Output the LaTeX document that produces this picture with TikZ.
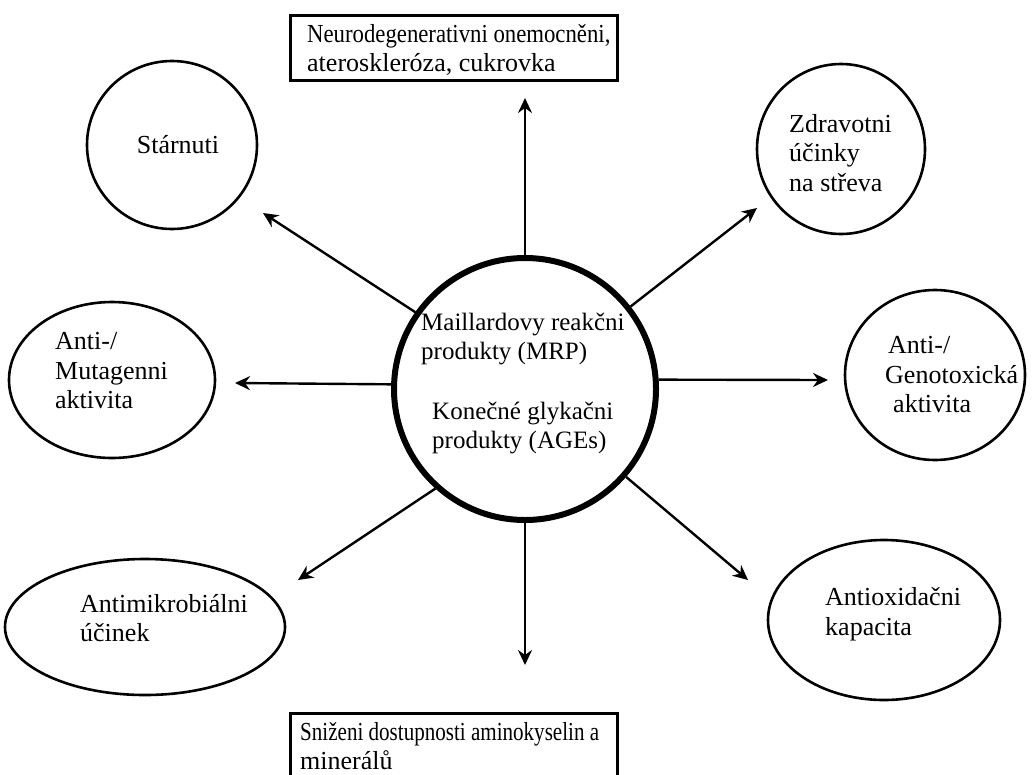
\documentclass[tikz,border=0pt]{standalone}
\usepackage{graphicx}
\usepackage{fontspec}
\setmainfont{Liberation Serif}
\usetikzlibrary{shapes.geometric,arrows.meta}
\tikzset{
  bubble/.style={draw, line width=2.6pt, ellipse, inner sep=0pt},
  hub/.style={draw, line width=6pt, circle, inner sep=0pt, minimum size=262pt},
  infobox/.style={draw, line width=3pt, rectangle, inner sep=0pt},
  label/.style={inner sep=0pt, align=left, font=\fontsize{26}{29.5}\selectfont},
  hublabel/.style={label, font=\fontsize{25}{29.5}\selectfont},
  arr/.style={line width=2.4pt, -{Stealth[length=15pt,width=14pt,inset=5pt]}}
}
\begin{document}
\begin{tikzpicture}[x=1pt,y=-1pt]
\useasboundingbox (0,0) rectangle (1035,774);

% central hub
\node[hub] (c) at (525,389) {};
\node[hublabel, anchor=west] (mrp) at (421,339) {Maillardovy reakčni\\produkty (MRP)};
\node[hublabel, anchor=west] (ages) at (432,428) {Konečné glykačni\\produkty (AGEs)};

% surrounding effects
\node[bubble, minimum width=170pt, minimum height=168pt] (aging) at (172,145) {};
\node[label] (agingT) at (178,145) {Stárnuti};

\node[bubble, minimum width=168pt, minimum height=170pt] (gut) at (841,149) {};
\node[label, anchor=west] (gutT) at (789,153) {Zdravotni\\účinky\\na střeva};

\node[bubble, minimum width=206pt, minimum height=156pt] (muta) at (112,380) {};
\node[label, anchor=west] (mutaT) at (55,371) {Anti-/\\Mutagenni\\aktivita};

\node[bubble, minimum width=180pt, minimum height=170pt] (geno) at (935,375) {};
\node[label, anchor=west] (genoT) at (885,375) {\hspace*{3pt}Anti-/\\Genotoxická\\\hspace*{8pt}aktivita};

\node[bubble, minimum width=280pt, minimum height=136pt] (micro) at (145,627) {};
\node[label, anchor=west] (microT) at (80,618) {Antimikrobiálni\\účinek};

\node[bubble, minimum width=232pt, minimum height=160pt] (oxi) at (884,620) {};
\node[label, anchor=west] (oxiT) at (825,614) {Antioxidačni\\kapacita};

\node[infobox, minimum width=327pt, minimum height=65pt] (disease) at (453.5,47.5) {};
\node[label, anchor=west] (diseaseT) at (307,50) {\scalebox{0.875}[1]{Neurodegenerativni onemocněni,}\\ateroskleróza, cukrovka};

\node[infobox, minimum width=327pt, minimum height=66pt] (nutri) at (453.5,746) {};
\node[label, anchor=west] (nutriT) at (300,746) {\scalebox{0.81}[1]{Sniženi dostupnosti aminokyselin a}\\minerálů};

% arrow tips
\coordinate (tTop) at (525,98);
\coordinate (tBot) at (525,665);
\coordinate (tAging) at (263,213);
\coordinate (tGut) at (757,208);
\coordinate (tMuta) at (235,383);
\coordinate (tGeno) at (828,380);
\coordinate (tMicro) at (298,580);
\coordinate (tOxi) at (748,580);

% connectors
\draw[arr] (c.90) -- (tTop);
\draw[arr] (c.270) -- (tBot);
\draw[arr] (c.145) -- (tAging);
\draw[arr] (c.38) -- (tGut);
\draw[arr] (c.178) -- (tMuta);
\draw[arr] (c.4) -- (tGeno);
\draw[arr] (c.228) -- (tMicro);
\draw[arr] (c.319) -- (tOxi);
\end{tikzpicture}
\end{document}
